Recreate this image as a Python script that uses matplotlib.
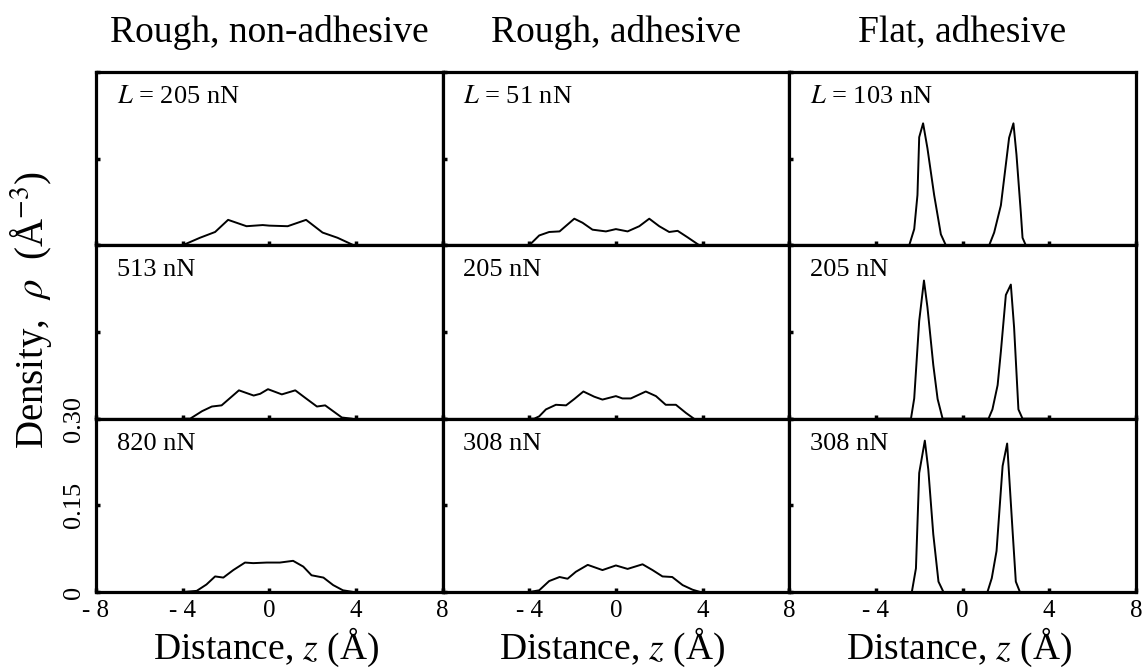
import matplotlib
matplotlib.use("Agg")
import matplotlib.pyplot as plt

plt.rcParams['font.family'] = ['Liberation Serif', 'DejaVu Serif']
plt.rcParams['mathtext.fontset'] = 'stix'

# column titles / row loads
col_titles = ["Rough, non-adhesive", "Rough, adhesive", "Flat, adhesive"]
loads = [["$L$ = 205 nN", "$L$ = 51 nN", "$L$ = 103 nN"],
         ["513 nN", "205 nN", "205 nN"],
         ["820 nN", "308 nN", "308 nN"]]

# rough, non-adhesive
z_rn_205 = [-4.0, -3.2, -2.5, -1.9, -1.05, -0.3, 0.0, 0.85, 1.7, 2.46, 3.15, 3.9]
d_rn_205 = [0.0, 0.013, 0.023, 0.044, 0.033, 0.035, 0.034, 0.033, 0.044, 0.022, 0.013, 0.0]
z_rn_513 = [-4.0, -3.65, -3.1, -2.65, -2.2, -1.4, -0.72, -0.42, -0.06, 0.58, 1.2, 1.66, 2.2, 2.58, 3.35, 3.8]
d_rn_513 = [0.0, 0.0, 0.013, 0.021, 0.023, 0.049, 0.040, 0.043, 0.051, 0.042, 0.049, 0.036, 0.021, 0.023, 0.002, 0.0]
z_rn_820 = [-4.0, -3.35, -2.9, -2.5, -2.12, -1.66, -1.12, -0.74, -0.12, 0.49, 1.1, 1.57, 1.95, 2.5, 2.95, 3.4, 3.9]
d_rn_820 = [0.0, 0.002, 0.013, 0.027, 0.025, 0.038, 0.051, 0.050, 0.051, 0.051, 0.054, 0.044, 0.029, 0.025, 0.012, 0.003, 0.0]

# rough, adhesive
z_ra_51 = [-4.0, -3.54, -3.08, -2.6, -1.92, -1.54, -1.08, -0.46, 0.0, 0.54, 1.08, 1.54, 2.0, 2.46, 2.85, 3.3, 3.85]
d_ra_51 = [0.0, 0.017, 0.023, 0.024, 0.046, 0.039, 0.027, 0.024, 0.028, 0.024, 0.033, 0.046, 0.033, 0.023, 0.025, 0.014, 0.0]
z_ra_205 = [-4.0, -3.77, -3.54, -3.23, -2.77, -2.3, -1.92, -1.5, -1.0, -0.62, 0.0, 0.3, 0.69, 1.38, 1.85, 2.3, 2.77, 3.23, 3.6]
d_ra_205 = [0.0, 0.0, 0.004, 0.016, 0.024, 0.023, 0.034, 0.047, 0.038, 0.033, 0.039, 0.035, 0.035, 0.047, 0.039, 0.024, 0.024, 0.010, 0.0]
z_ra_308 = [-4.0, -3.54, -3.08, -2.6, -2.23, -1.85, -1.3, -0.62, 0.0, 0.54, 1.23, 1.69, 2.15, 2.6, 3.08, 3.54, 3.9]
d_ra_308 = [0.0, 0.003, 0.019, 0.026, 0.023, 0.035, 0.047, 0.038, 0.046, 0.040, 0.048, 0.038, 0.027, 0.026, 0.012, 0.004, 0.0]

# flat, adhesive
z_fa_103 = [-4.0, -2.46, -2.23, -2.08, -2.0, -1.82, -1.62, -1.31, -1.0, -0.77,
            1.23, 1.46, 1.77, 2.15, 2.35, 2.49, 2.69, 2.77, 2.92, 4.0]
d_fa_103 = [0.0, 0.0, 0.028, 0.087, 0.187, 0.211, 0.168, 0.087, 0.019, 0.0,
            0.0, 0.022, 0.069, 0.186, 0.211, 0.157, 0.057, 0.013, 0.0, 0.0]
z_fa_205 = [-4.0, -2.38, -2.23, -2.0, -1.78, -1.62, -1.35, -1.15, -0.92,
            1.2, 1.38, 1.62, 1.77, 2.0, 2.23, 2.38, 2.58, 2.77, 4.0]
d_fa_205 = [0.0, 0.0, 0.035, 0.169, 0.239, 0.193, 0.093, 0.034, 0.0,
            0.0, 0.016, 0.058, 0.116, 0.214, 0.232, 0.158, 0.016, 0.0, 0.0]
z_fa_308 = [-4.0, -2.34, -2.15, -2.0, -1.74, -1.58, -1.35, -1.11, -0.88,
            1.15, 1.35, 1.57, 1.85, 2.06, 2.31, 2.46, 2.65, 4.0]
d_fa_308 = [0.0, 0.0, 0.041, 0.206, 0.262, 0.212, 0.100, 0.018, 0.0,
            0.0, 0.024, 0.071, 0.218, 0.257, 0.106, 0.018, 0.0, 0.0]

curves = [[(z_rn_205, d_rn_205), (z_ra_51, d_ra_51), (z_fa_103, d_fa_103)],
          [(z_rn_513, d_rn_513), (z_ra_205, d_ra_205), (z_fa_205, d_fa_205)],
          [(z_rn_820, d_rn_820), (z_ra_308, d_ra_308), (z_fa_308, d_fa_308)]]

fig, axes = plt.subplots(3, 3, figsize=(11.45, 6.72), dpi=100)
fig.subplots_adjust(left=0.0838, right=0.992, top=0.893, bottom=0.119,
                    wspace=0, hspace=0)

for i in range(3):
    for j in range(3):
        ax = axes[i, j]
        z, d = curves[i][j]
        ax.plot(z, d, color='black', lw=1.4)
        ax.set_xlim(-8, 8)
        ax.set_ylim(0, 0.30)
        for s in ax.spines.values():
            s.set_linewidth(2.3)
        ax.set_xticks([-8, -4, 0, 4, 8])
        ax.set_yticks([0, 0.15, 0.30])
        ax.tick_params(direction='in', length=3, width=2.5, color='black')
        ax.text(0.06, 0.92, loads[i][j], transform=ax.transAxes,
                ha='left', va='top', fontsize=19)
        if i == 2:
            if j == 0:
                ax.set_xticklabels(['- 8', '- 4', '0', '4', '8'])
            else:
                ax.set_xticklabels(['', '- 4', '0', '4', '8'])
            ax.tick_params(axis='x', labelsize=18, pad=6)
        else:
            ax.set_xticklabels([])
        if i == 2 and j == 0:
            ax.set_yticklabels(['0', '0.15', '0.30'], rotation=90, va='center')
            ax.tick_params(axis='y', labelsize=19, pad=8)
        else:
            ax.set_yticklabels([])

for j in range(3):
    pos = axes[0, j].get_position()
    cx = (pos.x0 + pos.x1) / 2
    fig.text(cx, 1 - 32 / 672, col_titles[j],
             ha='center', va='center', fontsize=27)
    fig.text(cx - 0.003, 1 - 659 / 672, 'Distance, $z$ (Å)',
             ha='center', va='baseline', fontsize=27)

fig.text(0.027, 1 - 310 / 672, r'Density,  $\rho$  (Å$^{-3}$)', rotation=90,
         ha='center', va='center', fontsize=28)

fig.savefig('out.png', dpi=100)
